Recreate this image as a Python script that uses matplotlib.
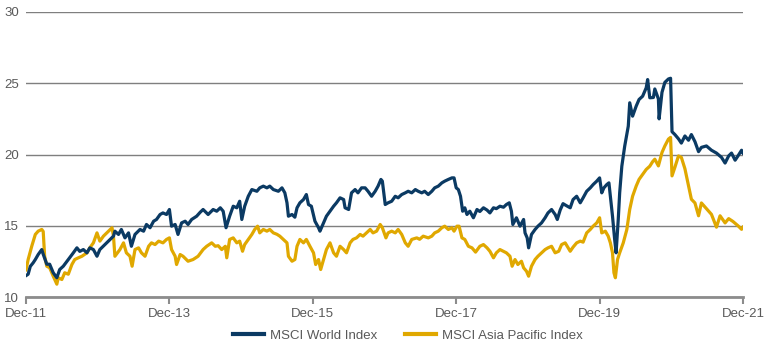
import matplotlib
matplotlib.use("Agg")
import matplotlib.pyplot as plt

# time in decimal years
world_t = [2011.92, 2011.95, 2011.98, 2012.02, 2012.05, 2012.09, 2012.14, 2012.16, 2012.21, 2012.25,
           2012.30, 2012.35, 2012.39, 2012.44, 2012.51, 2012.58, 2012.63, 2012.67, 2012.72, 2012.77,
           2012.81, 2012.86, 2012.91, 2012.95, 2013.02, 2013.07, 2013.14, 2013.16, 2013.21, 2013.25,
           2013.30, 2013.35, 2013.39, 2013.44, 2013.51, 2013.56, 2013.60, 2013.65, 2013.70, 2013.74,
           2013.79, 2013.83, 2013.88, 2013.92, 2013.95, 2014.00, 2014.04, 2014.09, 2014.14, 2014.18,
           2014.23, 2014.30, 2014.35, 2014.39, 2014.46, 2014.53, 2014.58, 2014.63, 2014.67, 2014.71,
           2014.76, 2014.81, 2014.86, 2014.90, 2014.93, 2014.97, 2015.02, 2015.07, 2015.14, 2015.18,
           2015.23, 2015.28, 2015.32, 2015.37, 2015.44, 2015.49, 2015.53, 2015.56, 2015.58, 2015.63,
           2015.67, 2015.70, 2015.74, 2015.79, 2015.83, 2015.86, 2015.90, 2015.95, 2016.00, 2016.02,
           2016.07, 2016.11, 2016.16, 2016.21, 2016.25, 2016.30, 2016.35, 2016.37, 2016.42, 2016.46,
           2016.51, 2016.55, 2016.60, 2016.65, 2016.69, 2016.74, 2016.79, 2016.83, 2016.87, 2016.89,
           2016.93, 2016.97, 2017.02, 2017.07, 2017.11, 2017.16, 2017.21, 2017.25, 2017.30, 2017.35,
           2017.39, 2017.44, 2017.48, 2017.53, 2017.58, 2017.62, 2017.67, 2017.72, 2017.76, 2017.81,
           2017.86, 2017.89, 2017.92, 2017.95, 2017.98, 2018.01, 2018.04, 2018.07, 2018.11, 2018.16,
           2018.21, 2018.25, 2018.30, 2018.35, 2018.39, 2018.44, 2018.48, 2018.53, 2018.58, 2018.62,
           2018.66, 2018.69, 2018.71, 2018.76, 2018.81, 2018.86, 2018.88, 2018.91, 2018.93, 2018.97,
           2019.02, 2019.06, 2019.11, 2019.16, 2019.20, 2019.25, 2019.30, 2019.33, 2019.37, 2019.41,
           2019.46, 2019.51, 2019.55, 2019.60, 2019.65, 2019.69, 2019.74, 2019.79, 2019.83, 2019.88,
           2019.92, 2019.95, 2019.98, 2020.02, 2020.05, 2020.07, 2020.10, 2020.13, 2020.15, 2020.18,
           2020.20, 2020.23, 2020.27, 2020.32, 2020.34, 2020.38, 2020.43, 2020.47, 2020.52, 2020.57,
           2020.59, 2020.62, 2020.67, 2020.69, 2020.74, 2020.75, 2020.79, 2020.83, 2020.88, 2020.91,
           2020.93, 2020.97, 2021.02, 2021.06, 2021.11, 2021.16, 2021.20, 2021.25, 2021.30, 2021.34,
           2021.41, 2021.48, 2021.55, 2021.62, 2021.67, 2021.72, 2021.76, 2021.81, 2021.85, 2021.90,
           2021.92]
world_v = [11.5, 11.6, 12.15, 12.4, 12.63, 12.98, 13.33, 13.0, 12.3, 12.3,
           11.7, 11.35, 11.93, 12.16, 12.63, 13.1, 13.45, 13.2, 13.33, 13.1,
           13.45, 13.33, 12.86, 13.33, 13.68, 13.92, 14.27, 14.62, 14.39, 14.74,
           14.15, 14.5, 13.56, 14.39, 14.74, 14.62, 15.09, 14.86, 15.32, 15.44,
           15.79, 15.9, 15.79, 16.14, 14.97, 15.09, 14.39, 15.2, 15.32, 15.09,
           15.44, 15.67, 15.95, 16.14, 15.79, 16.14, 16.02, 16.26, 16.02, 14.86,
           15.67, 16.37, 16.26, 16.72, 15.44, 16.37, 17.07, 17.54, 17.42, 17.66,
           17.78, 17.66, 17.78, 17.54, 17.42, 17.66, 17.31, 16.61, 15.67, 15.79,
           15.6, 16.26, 16.61, 16.84, 17.19, 16.49, 16.37, 15.32, 14.86, 14.62,
           15.2, 15.67, 16.02, 16.37, 16.61, 16.96, 16.84, 16.26, 16.14, 17.31,
           17.54, 17.31, 17.66, 17.66, 17.42, 17.07, 17.42, 17.78, 18.25, 18.13,
           16.49, 16.61, 16.72, 17.07, 16.96, 17.19, 17.31, 17.42, 17.31, 17.54,
           17.42, 17.31, 17.42, 17.19, 17.42, 17.66, 17.78, 18.01, 18.13, 18.25,
           18.36, 18.36, 17.66, 17.54, 17.07, 16.02, 16.26, 15.79, 16.02, 15.56,
           16.14, 16.0, 16.26, 16.1, 15.9, 16.26, 16.2, 16.37, 16.3, 16.49,
           16.61, 16.02, 15.09, 15.56, 14.97, 15.44, 14.5, 14.15, 13.45, 14.39,
           14.74, 14.97, 15.2, 15.56, 15.9, 16.14, 15.79, 15.44, 16.1, 16.55,
           16.4, 16.26, 16.84, 17.07, 16.61, 16.96, 17.42, 17.66, 17.89, 18.13,
           18.36, 17.31, 17.66, 17.89, 18.01, 17.07, 15.67, 14.04, 13.1, 15.44,
           17.31, 19.18, 20.58, 21.99, 23.63, 22.69, 23.39, 23.86, 24.09, 24.68,
           25.26, 23.98, 24.0, 24.6, 23.9, 22.5, 24.36, 25.06, 25.3, 25.35,
           21.6, 21.4, 21.1, 20.8, 21.3, 21.0, 21.4, 20.9, 20.2, 20.5,
           20.6, 20.3, 20.1, 19.8, 19.4, 19.9, 20.1, 19.6, 19.9, 20.3,
           20.1]

asia_t = [2011.92, 2011.95, 2012.00, 2012.05, 2012.09, 2012.14, 2012.16, 2012.18, 2012.21, 2012.25,
          2012.30, 2012.35, 2012.37, 2012.42, 2012.46, 2012.51, 2012.56, 2012.60, 2012.65, 2012.70,
          2012.77, 2012.81, 2012.86, 2012.91, 2012.95, 2013.00, 2013.07, 2013.12, 2013.14, 2013.16,
          2013.23, 2013.28, 2013.32, 2013.37, 2013.40, 2013.44, 2013.49, 2013.53, 2013.58, 2013.63,
          2013.67, 2013.72, 2013.77, 2013.83, 2013.88, 2013.92, 2013.95, 2014.00, 2014.02, 2014.07,
          2014.11, 2014.18, 2014.25, 2014.32, 2014.39, 2014.44, 2014.51, 2014.56, 2014.60, 2014.65,
          2014.70, 2014.72, 2014.76, 2014.81, 2014.86, 2014.90, 2014.94, 2014.97, 2015.02, 2015.07,
          2015.11, 2015.15, 2015.18, 2015.23, 2015.28, 2015.32, 2015.37, 2015.42, 2015.46, 2015.51,
          2015.56, 2015.58, 2015.63, 2015.67, 2015.70, 2015.74, 2015.79, 2015.83, 2015.88, 2015.93,
          2015.96, 2016.00, 2016.03, 2016.07, 2016.11, 2016.16, 2016.21, 2016.25, 2016.30, 2016.35,
          2016.39, 2016.44, 2016.48, 2016.53, 2016.58, 2016.62, 2016.67, 2016.72, 2016.76, 2016.81,
          2016.86, 2016.89, 2016.94, 2016.97, 2017.02, 2017.07, 2017.11, 2017.16, 2017.21, 2017.25,
          2017.30, 2017.37, 2017.41, 2017.46, 2017.53, 2017.58, 2017.62, 2017.67, 2017.72, 2017.76,
          2017.81, 2017.86, 2017.89, 2017.93, 2017.96, 2018.00, 2018.04, 2018.09, 2018.14, 2018.19,
          2018.25, 2018.30, 2018.35, 2018.39, 2018.44, 2018.48, 2018.53, 2018.58, 2018.62, 2018.67,
          2018.70, 2018.74, 2018.78, 2018.83, 2018.86, 2018.90, 2018.93, 2018.97, 2019.02, 2019.06,
          2019.11, 2019.16, 2019.20, 2019.25, 2019.30, 2019.35, 2019.39, 2019.44, 2019.51, 2019.55,
          2019.60, 2019.65, 2019.69, 2019.74, 2019.79, 2019.83, 2019.88, 2019.92, 2019.95, 2020.00,
          2020.04, 2020.07, 2020.10, 2020.12, 2020.14, 2020.17, 2020.20, 2020.25, 2020.30, 2020.34,
          2020.38, 2020.43, 2020.47, 2020.52, 2020.57, 2020.62, 2020.66, 2020.69, 2020.74, 2020.79,
          2020.83, 2020.88, 2020.91, 2020.93, 2020.97, 2021.02, 2021.06, 2021.11, 2021.16, 2021.20,
          2021.25, 2021.30, 2021.34, 2021.41, 2021.48, 2021.55, 2021.60, 2021.67, 2021.72, 2021.78,
          2021.85, 2021.90, 2021.92]
asia_v = [11.9, 12.63, 13.56, 14.39, 14.62, 14.74, 14.6, 12.86, 12.16, 12.05,
          11.46, 10.9, 11.35, 11.23, 11.7, 11.6, 12.28, 12.63, 12.75, 12.86,
          13.1, 13.45, 13.8, 14.5, 13.92, 14.27, 14.62, 14.86, 14.27, 12.86,
          13.33, 13.8, 13.1, 12.86, 12.16, 13.33, 13.45, 13.1, 12.86, 13.56,
          13.8, 13.68, 13.92, 13.8, 14.04, 14.15, 13.33, 12.86, 12.28, 12.98,
          12.86, 12.51, 12.63, 12.86, 13.33, 13.56, 13.8, 13.56, 13.6, 13.33,
          13.56, 12.75, 14.04, 14.15, 13.8, 13.92, 13.21, 13.68, 14.04, 14.39,
          14.74, 14.97, 14.5, 14.74, 14.62, 14.74, 14.5, 14.4, 14.27, 14.04,
          13.8, 12.86, 12.51, 12.63, 13.56, 14.04, 13.8, 14.04, 13.56, 13.1,
          12.28, 12.63, 11.93, 12.63, 13.33, 13.8, 13.1, 12.86, 13.56, 13.33,
          13.1, 13.8, 14.04, 14.15, 14.39, 14.27, 14.5, 14.74, 14.5, 14.62,
          15.09, 14.86, 14.15, 14.5, 14.62, 14.5, 14.74, 14.39, 13.8, 13.56,
          14.04, 14.15, 14.05, 14.27, 14.15, 14.27, 14.5, 14.62, 14.86, 14.97,
          14.74, 14.86, 14.62, 14.97, 14.97, 14.15, 14.04, 13.56, 13.45, 13.15,
          13.56, 13.68, 13.45, 13.21, 12.75, 13.1, 13.33, 13.2, 13.1, 12.86,
          12.16, 12.63, 12.28, 12.51, 12.05, 11.81, 11.46, 12.16, 12.63, 12.86,
          13.1, 13.33, 13.45, 13.56, 13.1, 13.21, 13.68, 13.8, 13.21, 13.5,
          13.8, 13.92, 13.85, 14.5, 14.74, 14.97, 15.2, 15.56, 14.5, 14.62,
          14.27, 13.8, 13.1, 11.7, 11.35, 12.63, 13.1, 13.8, 14.74, 16.14,
          17.07, 17.78, 18.25, 18.6, 18.95, 19.18, 19.5, 19.67, 19.2, 20.14,
          20.6, 21.08, 21.2, 18.5, 19.1, 19.9, 19.8, 19.0, 17.8, 16.86,
          16.6, 15.7, 16.6, 16.2, 15.8, 14.9, 15.7, 15.2, 15.5, 15.3,
          15.0, 14.75, 14.9]

tick_pos = [2011.92, 2013.92, 2015.92, 2017.92, 2019.92, 2021.92]
tick_labels = ["Dec-11", "Dec-13", "Dec-15", "Dec-17", "Dec-19", "Dec-21"]

plt.rcParams["font.family"] = ["Liberation Sans", "DejaVu Sans"]

fig = plt.figure(figsize=(7.7, 3.54), dpi=100)
ax = fig.add_axes([26 / 770, 57 / 354, 717 / 770, 285 / 354])

ax.plot(world_t, world_v, color="#0b3a63", lw=2.3, label="MSCI World Index", zorder=3)
ax.plot(asia_t, asia_v, color="#e0a800", lw=2.3, label="MSCI Asia Pacific Index", zorder=2)

ax.set_xlim(2011.92, 2021.92)
ax.set_ylim(10, 30)
ax.set_yticks([10, 15, 20, 25, 30])
ax.set_xticks(tick_pos)
ax.set_xticklabels(tick_labels)

ax.grid(axis="y", color="#7f7f7f", lw=1.0)
ax.set_axisbelow(True)
for s in ["left", "right", "top"]:
    ax.spines[s].set_visible(False)
ax.spines["bottom"].set_color("#8c8c8c")
ax.spines["bottom"].set_linewidth(2)
ax.spines["bottom"].set_zorder(4)

ax.tick_params(axis="x", direction="out", length=5, width=1.5, color="#8c8c8c",
               labelsize=9.5, labelcolor="#595959", pad=3)
ax.tick_params(axis="y", length=0, labelsize=9.5, labelcolor="#595959", pad=5)

leg = ax.legend(loc="center", bbox_to_anchor=(0.533, -0.135), ncol=2, frameon=False,
                fontsize=9.5, handlelength=2.35, columnspacing=2.1, handletextpad=0.45)
for t in leg.get_texts():
    t.set_color("#595959")
for h in leg.get_lines():
    h.set_linewidth(3)

fig.savefig("out.png", dpi=100)
